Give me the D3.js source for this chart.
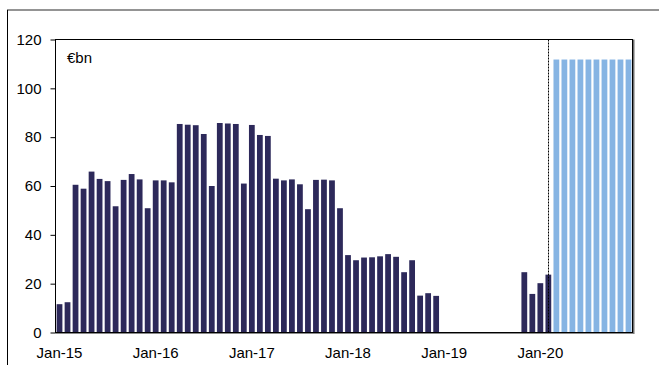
<!DOCTYPE html>
<html><head><meta charset="utf-8">
<script src="https://cdn.jsdelivr.net/npm/d3@7"></script>
<style>html,body{margin:0;padding:0;background:#fff;}svg{display:block;}</style>
</head><body>
<svg id="c" width="659" height="365"></svg>
<script>
const months = [
 "Jan-15","Feb-15","Mar-15","Apr-15","May-15","Jun-15","Jul-15","Aug-15","Sep-15","Oct-15","Nov-15","Dec-15",
 "Jan-16","Feb-16","Mar-16","Apr-16","May-16","Jun-16","Jul-16","Aug-16","Sep-16","Oct-16","Nov-16","Dec-16",
 "Jan-17","Feb-17","Mar-17","Apr-17","May-17","Jun-17","Jul-17","Aug-17","Sep-17","Oct-17","Nov-17","Dec-17",
 "Jan-18","Feb-18","Mar-18","Apr-18","May-18","Jun-18","Jul-18","Aug-18","Sep-18","Oct-18","Nov-18","Dec-18",
 "Jan-19","Feb-19","Mar-19","Apr-19","May-19","Jun-19","Jul-19","Aug-19","Sep-19","Oct-19","Nov-19","Dec-19",
 "Jan-20","Feb-20","Mar-20","Apr-20","May-20","Jun-20","Jul-20","Aug-20","Sep-20","Oct-20","Nov-20","Dec-20"
];
// Actual monthly net purchases, Jan-15 .. Feb-20 (€bn)
const actualMonths = months.slice(0, 62);
const actual = [
 11.6, 12.4, 60.5, 58.9, 65.9, 62.9, 62.0, 51.7, 62.5, 64.9, 62.7, 50.9,
 62.3, 62.3, 61.5, 85.4, 85.1, 84.9, 81.3, 60.0, 85.8, 85.6, 85.4, 61.0,
 85.0, 80.9, 80.5, 63.0, 62.3, 62.7, 60.7, 50.5, 62.5, 62.6, 62.3, 50.9,
 31.7, 29.6, 30.7, 30.8, 31.2, 32.1, 31.0, 24.7, 29.6, 15.1, 16.1, 15.0,
 0, 0, 0, 0, 0, 0, 0, 0, 0, 0, 24.7, 15.8,
 20.2, 23.7
];
// Projected, Mar-20 .. Dec-20 (€bn)
const projMonths = months.slice(62);
const projected = [111.8, 111.8, 111.8, 111.8, 111.8, 111.8, 111.8, 111.8, 111.8, 111.8];
const yTicks = [0, 20, 40, 60, 80, 100, 120];
const xLabels = ["Jan-15","Jan-16","Jan-17","Jan-18","Jan-19","Jan-20"];
const splitMonth = "Feb-20";

const svg = d3.select("#c");
const font = "'Liberation Sans', Arial, sans-serif";
const L = 55.5, R = 632.5, T = 39.5, B = 332.5;

const x = d3.scaleBand().domain(months).range([L, R]).paddingInner(0.28).paddingOuter(0.14);
const y = d3.scaleLinear().domain([0, 120]).range([B, T]);

// outer frame fragments
svg.append("line").attr("x1", 7).attr("x2", 659).attr("y1", 10).attr("y2", 10)
  .attr("stroke", "#707070").attr("stroke-width", 1.5);
svg.append("line").attr("x1", 7.5).attr("x2", 7.5).attr("y1", 10).attr("y2", 365)
  .attr("stroke", "#000").attr("stroke-width", 1);

// bars
svg.append("g").selectAll("rect").data(actual.map((v, i) => ({m: actualMonths[i], v})).filter(d => d.v > 0))
  .join("rect")
  .attr("x", d => x(d.m)).attr("width", x.bandwidth())
  .attr("y", d => y(d.v)).attr("height", d => y(0) - y(d.v))
  .attr("fill", "#2d295a");
svg.append("g").selectAll("rect").data(projected.map((v, i) => ({m: projMonths[i], v})))
  .join("rect")
  .attr("x", d => x(d.m)).attr("width", x.bandwidth())
  .attr("y", d => y(d.v)).attr("height", d => y(0) - y(d.v))
  .attr("fill", "#86b4e3");

// frame shadow (right/bottom)
svg.append("line").attr("x1", R + 1).attr("x2", R + 1).attr("y1", T).attr("y2", B + 1.5)
  .attr("stroke", "#6e6e6e").attr("stroke-width", 2);
svg.append("line").attr("x1", L).attr("x2", R + 1).attr("y1", B + 1).attr("y2", B + 1)
  .attr("stroke", "#8a8a8a").attr("stroke-width", 1);
// frame
svg.append("rect").attr("x", L).attr("y", T).attr("width", R - L).attr("height", B - T)
  .attr("fill", "none").attr("stroke", "#000").attr("stroke-width", 1);

// dashed divider
const sx = Math.round(x(splitMonth) + x.bandwidth() / 2) + 0.5;
svg.append("line").attr("x1", sx).attr("x2", sx).attr("y1", T).attr("y2", B)
  .attr("stroke", "#000").attr("stroke-width", 1).attr("stroke-dasharray", "2,1");

// y axis
const ya = svg.append("g").attr("transform", `translate(${L},0)`)
  .call(d3.axisLeft(y).tickValues(yTicks).tickSize(5).tickPadding(9).tickFormat(d3.format("d")));
ya.select(".domain").remove();
ya.selectAll("line").attr("stroke", "#000");
ya.selectAll("text").attr("font-family", font).attr("font-size", 15).attr("fill", "#000");

// x axis labels
const xa = svg.append("g").attr("transform", `translate(0,${B})`)
  .call(d3.axisBottom(x).tickValues(xLabels).tickSize(0).tickPadding(15));
xa.select(".domain").remove();
xa.selectAll("text").attr("font-family", font).attr("font-size", 15).attr("fill", "#000");

// unit label
svg.append("text").attr("x", 67).attr("y", 63).text("€bn")
  .attr("font-family", font).attr("font-size", 15).attr("fill", "#000");
</script>
</body></html>
